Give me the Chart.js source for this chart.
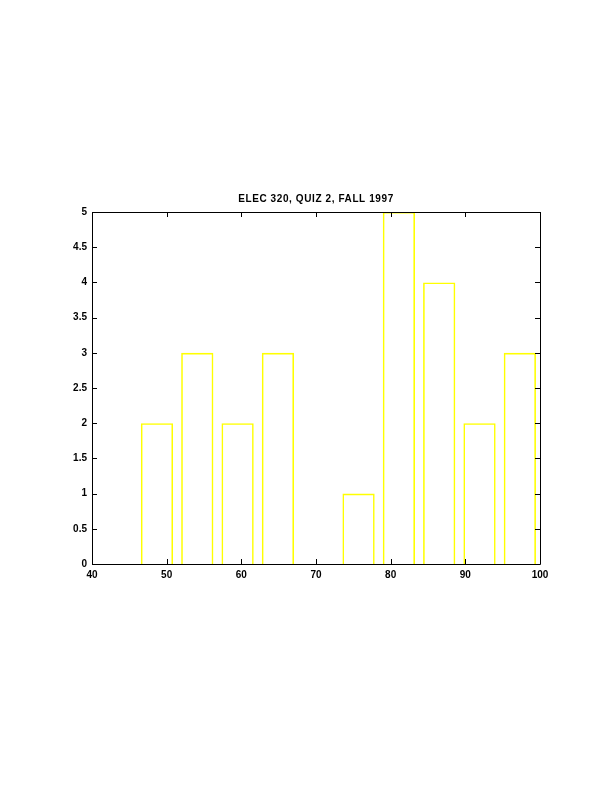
<!DOCTYPE html>
<html>
<head>
    <title>ELEC 320 Quiz 2</title>
    <script src="https://cdn.jsdelivr.net/npm/chart.js"></script>
    <style>
        html, body {
            margin: 0;
            padding: 0;
            background: #fff;
        }
        .chart-container {
            width: 612px;
            height: 792px;
        }
    </style>
</head>
<body>
    <div class="chart-container">
        <canvas id="histChart"></canvas>
    </div>

    <script>
        // Histogram data (10 bins, MATLAB hist style)
        const binCenters = [48.7, 54.1, 59.5, 64.9, 70.3, 75.7, 81.1, 86.5, 91.9, 97.3];
        const counts = [2, 3, 2, 3, 0, 1, 5, 4, 2, 3];
        const xTicks = [40, 50, 60, 70, 80, 90, 100];
        const yTicks = [0, 0.5, 1, 1.5, 2, 2.5, 3, 3.5, 4, 4.5, 5];
        const chartTitle = 'ELEC 320, QUIZ 2, FALL 1997';

        const histData = binCenters.map((c, i) => ({ x: c, y: counts[i] }));
        const tickFont = { family: 'Liberation Sans', size: 10, weight: 'bold' };

        // box around plot + inward ticks on all four sides, title over the plot
        const boxTicks = {
            id: 'boxTicks',
            afterDatasetsDraw(chart) {
                const ctx = chart.ctx;
                const a = chart.chartArea;
                const xs = chart.scales.x;
                const ys = chart.scales.y;
                const len = 5;
                ctx.save();
                ctx.strokeStyle = '#000';
                ctx.lineWidth = 1;
                ctx.beginPath();
                ctx.rect(Math.round(a.left) + 0.5, Math.round(a.top) + 0.5,
                    Math.round(a.right - a.left), Math.round(a.bottom - a.top));
                xTicks.forEach(v => {
                    const px = Math.round(xs.getPixelForValue(v)) + 0.5;
                    ctx.moveTo(px, a.bottom);
                    ctx.lineTo(px, a.bottom - len);
                    ctx.moveTo(px, a.top);
                    ctx.lineTo(px, a.top + len);
                });
                yTicks.forEach(v => {
                    const py = Math.round(ys.getPixelForValue(v)) + 0.5;
                    ctx.moveTo(a.left, py);
                    ctx.lineTo(a.left + len, py);
                    ctx.moveTo(a.right, py);
                    ctx.lineTo(a.right - len, py);
                });
                ctx.stroke();

                // title
                ctx.fillStyle = '#000';
                ctx.font = 'bold 10px "Liberation Sans"';
                ctx.letterSpacing = '0.6px';
                ctx.textAlign = 'center';
                ctx.textBaseline = 'middle';
                ctx.fillText(chartTitle, (a.left + a.right) / 2, a.top - 13);
                ctx.restore();
            }
        };

        const ctx = document.getElementById('histChart').getContext('2d');
        const chart = new Chart(ctx, {
            type: 'bar',
            data: {
                datasets: [{
                    data: histData,
                    backgroundColor: 'rgba(0,0,0,0)',
                    borderColor: '#ffff00',
                    borderWidth: 1.6,
                    inflateAmount: 0,
                    categoryPercentage: 0.8,
                    barPercentage: 1.0
                }]
            },
            options: {
                responsive: true,
                maintainAspectRatio: false,
                animation: false,
                layout: {
                    padding: { top: 212, right: 72, left: 0, bottom: 0 }
                },
                plugins: {
                    legend: { display: false },
                    tooltip: { enabled: false },
                    title: { display: false }
                },
                scales: {
                    x: {
                        type: 'linear',
                        min: 40,
                        max: 100,
                        offset: false,
                        grid: { display: false, drawTicks: false, offset: false },
                        border: { display: false },
                        afterBuildTicks: s => { s.ticks = xTicks.map(v => ({ value: v })); },
                        afterFit: s => { s.height = 228; },
                        ticks: {
                            color: '#000',
                            padding: 5,
                            maxRotation: 0,
                            font: tickFont,
                            callback: v => String(v)
                        }
                    },
                    y: {
                        min: 0,
                        max: 5,
                        grid: { display: false, drawTicks: false },
                        border: { display: false },
                        afterBuildTicks: s => { s.ticks = yTicks.map(v => ({ value: v })); },
                        afterFit: s => { s.width = 92; },
                        ticks: {
                            color: '#000',
                            padding: 5,
                            font: tickFont,
                            callback: v => String(v)
                        }
                    }
                }
            },
            plugins: [boxTicks]
        });
    </script>
</body>
</html>
